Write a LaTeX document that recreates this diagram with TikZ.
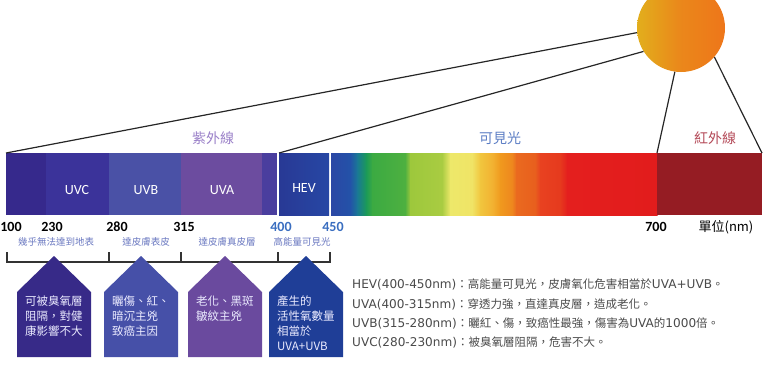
\documentclass[tikz,border=0pt]{standalone}
\usepackage{fontspec}
\setmainfont{Noto Sans CJK TC}
\newfontfamily\latinfont{Carlito}
\newfontfamily\notelatin{DejaVu Sans}[Scale=1.05]
\newcommand{\lt}[1]{{\notelatin #1}}
\usetikzlibrary{positioning}

% band colours
\definecolor{uvcdark}{HTML}{36298C}
\definecolor{uvc}{HTML}{3B339A}
\definecolor{uvb}{HTML}{4A51A6}
\definecolor{uva}{HTML}{6C4C9F}
\definecolor{uvtail}{HTML}{4A3E9E}
\definecolor{hevl}{HTML}{283995}
\definecolor{hevr}{HTML}{2747A4}
\definecolor{infra}{HTML}{951C23}
\definecolor{sunyel}{HTML}{E2AE1C}
\definecolor{sunora}{HTML}{EE761A}
% spectrum stops
\definecolor{s0}{HTML}{2B47A5}
\definecolor{s1}{HTML}{2352A8}
\definecolor{s2}{HTML}{1A7896}
\definecolor{s3}{HTML}{1B9A58}
\definecolor{s4}{HTML}{3BAA42}
\definecolor{s5}{HTML}{4EB040}
\definecolor{s6}{HTML}{9DC83C}
\definecolor{s7}{HTML}{A9CC42}
\definecolor{s8}{HTML}{EDE86A}
\definecolor{s9}{HTML}{F0E466}
\definecolor{s10}{HTML}{F1C63E}
\definecolor{s11}{HTML}{F2B030}
\definecolor{s12}{HTML}{F0991E}
\definecolor{s13}{HTML}{EE871E}
\definecolor{s14}{HTML}{EA6A1F}
\definecolor{s15}{HTML}{E85F1E}
\definecolor{s16}{HTML}{E84220}
\definecolor{s17}{HTML}{E63A1E}
\definecolor{s18}{HTML}{E41F1E}
\definecolor{s19}{HTML}{E21C1C}
% text colours
\definecolor{uvtitle}{HTML}{9A80C8}
\definecolor{vistitle}{HTML}{5B7DC4}
\definecolor{irtitle}{HTML}{B44A58}
\definecolor{reach}{HTML}{6A78C0}
\definecolor{hevnum}{HTML}{3A6EC0}
\definecolor{note}{HTML}{4A4A4A}
\definecolor{boxc}{HTML}{372A88}
\definecolor{boxb}{HTML}{4650A8}
\definecolor{boxa}{HTML}{6A4A9E}
\definecolor{boxh}{HTML}{1F3E97}

\tikzstyle{sunline} = [line width=1.2pt, draw=black!85]
\tikzstyle{title} = [inner sep=0, font=\fontsize{14}{14}\selectfont]
\tikzstyle{bandname} = [inner sep=0, text=white, font=\latinfont\fontsize{14}{14}\selectfont]
\tikzstyle{num} = [inner sep=0, font=\latinfont\bfseries\fontsize{14}{14}\selectfont]
\tikzstyle{reachtext} = [inner sep=0, text=reach, font=\fontsize{9.5}{10}\selectfont]
\tikzstyle{boxtext} = [inner sep=0, anchor=north west, align=left, text=white!92!blue,
font=\fontsize{11.5}{15}\selectfont]
\tikzstyle{bracket} = [line width=1.4pt, draw=black!80]

\begin{document}
\begin{tikzpicture}[x=1pt, y=-1pt]
\useasboundingbox (0,0) rectangle (763,368);
\clip (0,0) rectangle (763,368);

% sun
\node (sun) [circle, minimum size=88, inner sep=0, left color=sunyel, right color=sunora, middle color=sunora!70!sunyel] at (681,28) {};

% the bar
\fill[uvcdark] (6,153) rectangle (46,215);
\fill[uvc] (45.5,153) rectangle (109,215);
\fill[uvb] (108.5,153) rectangle (181.5,215);
\fill[uva] (181,153) rectangle (262.5,215);
\fill[uvtail] (262,153) rectangle (277,215);
\fill[left color=hevl, right color=hevr] (279,153) rectangle (329,215);
\fill[s0] (331,153) rectangle (657,215);
\foreach \xa/\xb/\ca/\cb in {331/350/s0/s1, 350/357/s1/s2, 357/366/s2/s3, 366/372/s3/s4,
  372/405/s4/s5, 405/410/s5/s6, 410/442/s6/s7, 442/450/s7/s8, 450/472/s8/s9,
  472/480/s9/s10, 480/493/s10/s11, 493/500/s11/s12, 500/512/s12/s13, 512/516/s13/s14,
  516/535/s14/s15, 535/540/s15/s16, 540/560/s16/s17, 560/567/s17/s18, 567/657/s18/s19}
  \fill[left color=\ca, right color=\cb] (\xa,153) rectangle (\xb+0.5,215);
\fill[infra] (657,153) rectangle (762,215);

\coordinate (uvl) at (6,153);
\coordinate (visl) at (279,153);
\coordinate (irl) at (657,153);
\coordinate (irr) at (762,153);

\draw [sunline] (sun.186) -- (uvl);
\draw [sunline] (sun.212) -- (visl);
\draw [sunline] (sun.262) -- (irl);
\draw [sunline] (sun.319) -- (irr);

% titles
\node (uvtitle) [title, text=uvtitle] at (213,138) {紫外線};
\node (vistitle) [title, text=vistitle] at (500,138) {可見光};
\node (irtitle) [title, text=irtitle] at (715,138) {紅外線};

\node (uvc) [bandname] at (77,190) {UVC};
\node (uvb) [bandname] at (146,190) {UVB};
\node (uva) [bandname] at (222,190) {UVA};
\node (hev) [bandname] at (304,188) {HEV};

% wavelengths
\node (n100) [num] at (11,227) {100};
\node (n230) [num] at (52,227) {230};
\node (n280) [num] at (117,227) {280};
\node (n315) [num] at (184,227) {315};
\node (n400) [num, text=hevnum] at (281,227) {400};
\node (n450) [num, text=hevnum] at (333,227) {450};
\node (n700) [num] at (656,227) {700};
\node (unit) [inner sep=0, font=\fontsize{13}{13}\selectfont] at (726,227) {單位(nm)};

\node (r1) [reachtext] at (56,242) {幾乎無法達到地表};
\node (r2) [reachtext] at (146,242) {達皮膚表皮};
\node (r3) [reachtext] at (227,242) {達皮膚真皮層};
\node (r4) [reachtext] at (302,242) {高能量可見光};

% bracket
\draw [bracket] (7,252) -- (7,262) -- (330,262) -- (330,252);
\foreach \x in {109,181,278}
  \draw [bracket] (\x,252) -- (\x,262);

% boxes
\foreach \xl/\col in {17/boxc, 104/boxb, 188/boxa, 269/boxh}
  \fill[\col] (\xl,357) -- (\xl,292) -- (\xl+37,256) -- (\xl+74,292) -- (\xl+74,357) -- cycle;

\node (t1) [boxtext] at (25,296) {可被臭氧層\\阻隔，對健\\康影響不大};
\node (t2) [boxtext] at (112,296) {曬傷、紅、\\暗沉主兇\\致癌主因};
\node (t3) [boxtext] at (196,296) {老化、黑斑\\皺紋主兇};
\node (t4) [boxtext] at (277,296) {產生的\\活性氧數量\\相當於\\UVA+UVB};

\node (notes) [inner sep=0, anchor=north west, align=left, text=note,
  font=\fontsize{11.5}{19.3}\selectfont] at (352,279)
  {\lt{HEV(400-450nm)}：高能量可見光，皮膚氧化危害相當於\lt{UVA+UVB}。\\
   \lt{UVA(400-315nm)}：穿透力強，直達真皮層，造成老化。\\
   \lt{UVB(315-280nm)}：曬紅、傷，致癌性最強，傷害為\lt{UVA}的\lt{1000}倍。\\
   \lt{UVC(280-230nm)}：被臭氧層阻隔，危害不大。};

\end{tikzpicture}
\end{document}
